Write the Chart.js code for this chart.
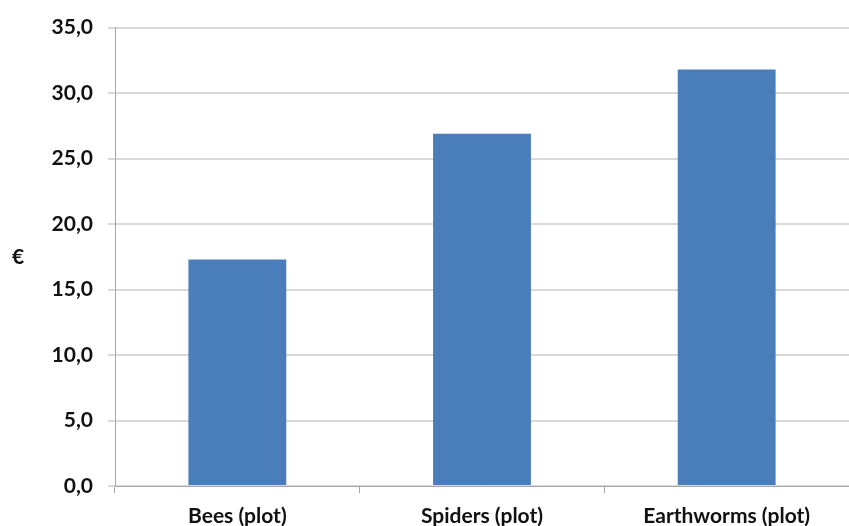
<!DOCTYPE html>
<html>
<head>
<meta charset="utf-8">
<script src="https://cdn.jsdelivr.net/npm/chart.js@4/dist/chart.umd.min.js"></script>
<style>
  html, body { margin: 0; padding: 0; background: #ffffff; }
  #wrap { width: 849px; height: 526px; position: relative; }
</style>
</head>
<body>
<div id="wrap"><canvas id="c" width="849" height="526"></canvas></div>
<script>
const categories = ["Bees (plot)", "Spiders (plot)", "Earthworms (plot)"];
const values = [17.3, 26.9, 31.8];
const yAxisTitle = "€";
const yMin = 0, yMax = 35, yStep = 5;

const FONT = "Lato, 'Open Sans', sans-serif";

const euroTitle = {
  id: 'euroTitle',
  afterDraw(chart) {
    const ctx = chart.ctx;
    const ca = chart.chartArea;
    ctx.save();
    ctx.font = "bold 21px " + FONT;
    ctx.fillStyle = "#111111";
    ctx.textAlign = "center";
    ctx.textBaseline = "middle";
    ctx.fillText(yAxisTitle, 18, (ca.top + ca.bottom) / 2);
    ctx.restore();
  }
};

new Chart(document.getElementById('c'), {
  type: 'bar',
  data: {
    labels: categories,
    datasets: [{
      data: values,
      backgroundColor: '#4a7ebb',
      borderWidth: 0,
      categoryPercentage: 1.0,
      barPercentage: 0.4
    }]
  },
  options: {
    responsive: false,
    animation: false,
    layout: { padding: { top: 23, right: 0, bottom: 0, left: 0 } },
    plugins: { legend: { display: false }, tooltip: { enabled: false } },
    scales: {
      x: {
        offset: true,
        grid: { display: true, drawOnChartArea: false, drawTicks: true, tickLength: 7, color: '#a6a6a6' },
        border: { display: true, color: '#a6a6a6', width: 1 },
        ticks: { color: '#111111', font: { family: FONT, size: 21, weight: 'bold' }, padding: 11, maxRotation: 0 },
        afterFit(scale) { scale.height = 40; }
      },
      y: {
        min: yMin, max: yMax,
        grid: { color: '#d9d9d9', lineWidth: 2, tickLength: 7, drawTicks: true },
        border: { display: true, color: '#a6a6a6', width: 1 },
        ticks: {
          stepSize: yStep,
          color: '#111111',
          padding: 15,
          font: { family: FONT, size: 21, weight: 'bold' },
          callback: (v) => v.toFixed(1).replace('.', ',')
        },
        afterFit(scale) { scale.width = 115; }
      }
    }
  },
  plugins: [euroTitle]
});
</script>
</body>
</html>
